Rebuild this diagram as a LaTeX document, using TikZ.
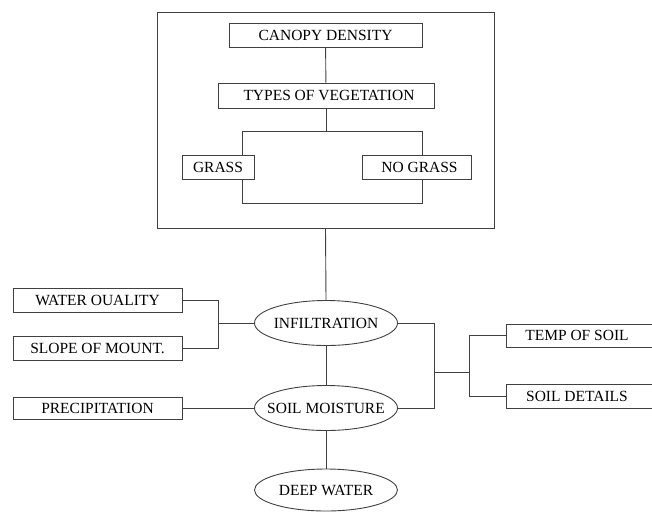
\documentclass[tikz,border=0pt]{standalone}
\usepackage{fontspec}
\setmainfont{Liberation Serif}
\usetikzlibrary{shapes.geometric}
\newcommand{\ztxt}[1]{\makebox[0pt]{\raisebox{-5pt}[0pt][0pt]{#1}}}
\begin{document}
\begin{tikzpicture}[x=1pt,y=-1pt,
  ln/.style={draw=black!75,line width=0.9pt},
  box/.style={ln,rectangle,inner sep=0pt,font=\fontsize{15.5}{17}\selectfont},
  oval/.style={ln,ellipse,inner sep=0pt,font=\fontsize{15.5}{17}\selectfont}]
\useasboundingbox (0,0) rectangle (652,512);
\node[ln,rectangle,minimum width=337pt,minimum height=216pt] (outer) at (325.5,120) {};
\node[box,minimum width=193pt,minimum height=24pt] (canopy) at (325.5,35) {CANOPY DENSITY};
\node[box,minimum width=216pt,minimum height=25pt] (types) at (326,95.5) {\hspace*{6pt}TYPES OF VEGETATION};
\node[box,minimum width=72pt,minimum height=24pt] (grass) at (218,167) {GRASS};
\node[box,minimum width=109pt,minimum height=24pt] (nograss) at (416.5,167) {\hspace*{6pt}NO GRASS};
\node[box,minimum width=169pt,minimum height=24pt] (water) at (97.5,300) {WATER OUALITY};
\node[box,minimum width=169pt,minimum height=24pt] (slope) at (97.5,348) {SLOPE OF MOUNT.};
\node[box,minimum width=169pt,minimum height=22pt] (precip) at (97.5,408) {PRECIPITATION};
\node[oval,minimum width=143pt,minimum height=45pt] (infil) at (326,323) {\ztxt{INFILTRATION}};
\node[oval,minimum width=143pt,minimum height=45pt] (soilm) at (326,408) {\ztxt{SOIL MOISTURE}};
\node[oval,minimum width=143pt,minimum height=42pt] (deep) at (326,490) {\ztxt{DEEP WATER}};
\node[box,minimum width=150pt,minimum height=23pt] (temp) at (581,335.5) {\hspace*{-4pt}TEMP OF SOIL\hspace*{4pt}};
\node[box,minimum width=150pt,minimum height=24pt] (soild) at (581,396) {\hspace*{-4pt}SOIL DETAILS\hspace*{4pt}};
% top tree
\coordinate (bl) at ([xshift=24pt]grass.north);
\coordinate (blt) at ([yshift=23pt]bl);
\draw[ln] (canopy) -- (types);
\draw[ln] (bl) -- (blt) -| ([xshift=5.5pt]nograss.north);
\draw[ln] (types.south) -- (types.south |- blt);
\draw[ln] ([xshift=24pt]grass.south) -- ++(0,24) -| ([xshift=5.5pt]nograss.south);
% main column
\draw[ln] (outer.south) -- (infil.north);
\draw[ln] (infil.south) -- (soilm.north);
\draw[ln] (soilm.south) -- (deep.north);
% left
\coordinate (lj) at ([xshift=36pt]water.east |- infil.west);
\draw[ln] (water.east) -- ++(36,0) |- (slope.east);
\draw[ln] (lj) -- (infil.west);
\draw[ln] (precip.east) -- (soilm.west);
% right
\coordinate (rj) at (434,372);
\coordinate (rj2) at ([xshift=-36pt]temp.west |- rj);
\draw[ln] (infil.east) -- (rj |- infil.east) |- (soilm.east);
\draw[ln] (rj) -- (rj2);
\draw[ln] (temp.west) -- ++(-36,0) |- (soild.west);
\end{tikzpicture}
\end{document}
